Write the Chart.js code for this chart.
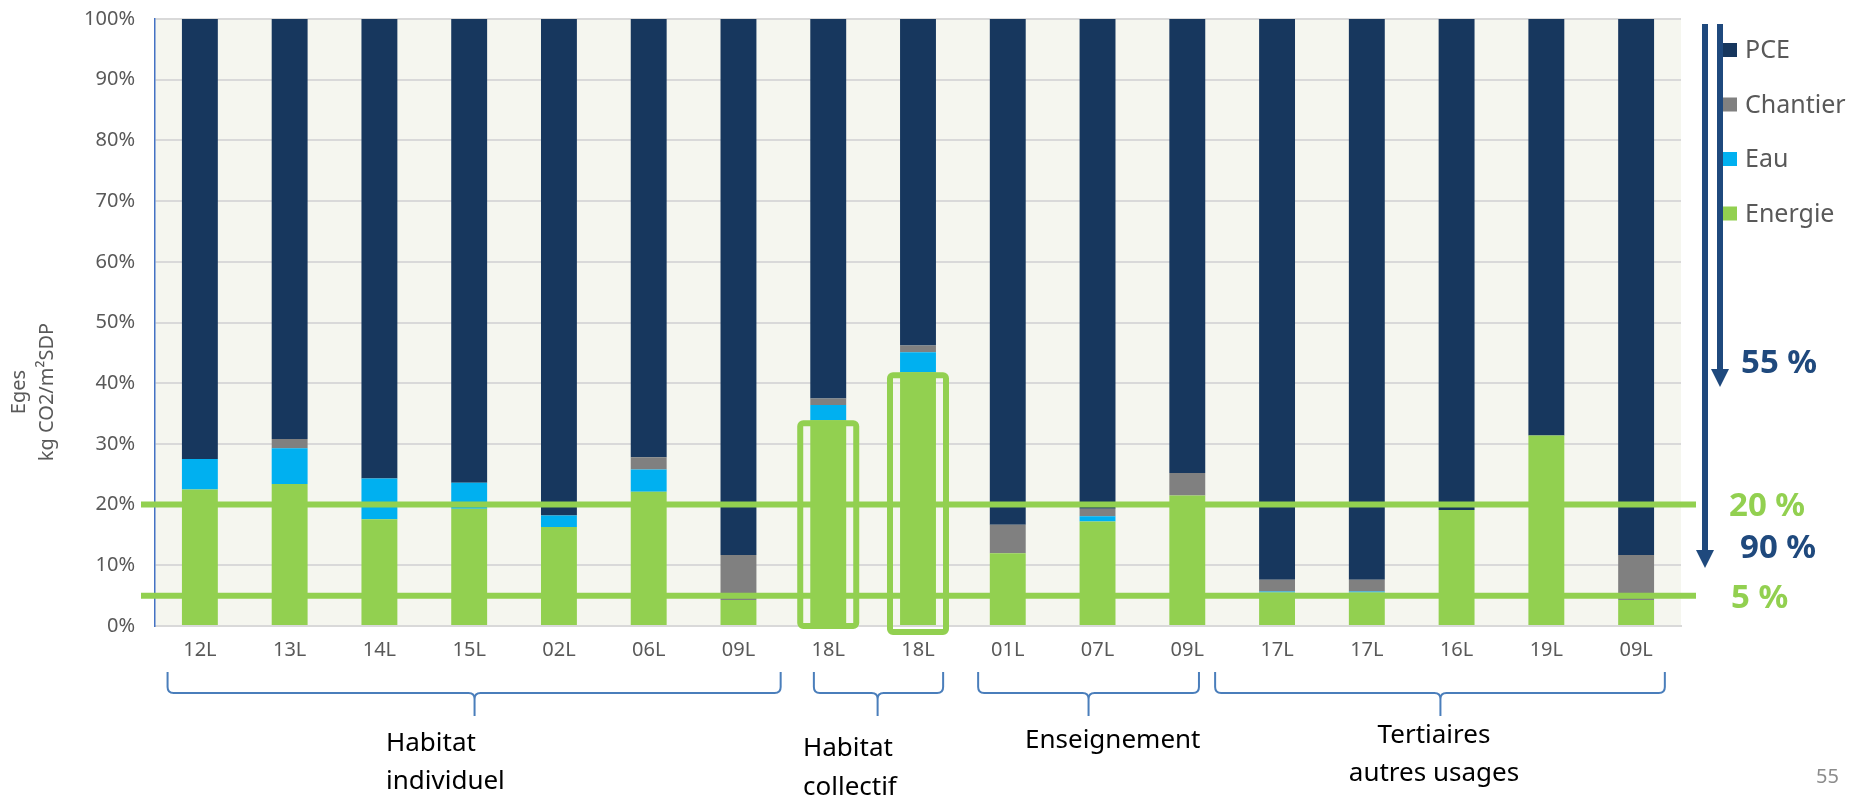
<!DOCTYPE html>
<html lang="fr">
<head>
<meta charset="utf-8">
<title>Eges par poste</title>
<script src="https://cdn.jsdelivr.net/npm/chart.js@4.4.0/dist/chart.umd.min.js"></script>
<style>
  html, body { margin: 0; padding: 0; background: #ffffff; }
  #wrap { width: 1865px; height: 801px; position: relative; }
</style>
</head>
<body>
<div id="wrap"><canvas id="chart" width="1865" height="801"></canvas></div>
<script>
// Projets (étiquettes de l'axe X)
const projets = ["12L", "13L", "14L", "15L", "02L", "06L", "09L", "18L", "18L",
  "01L", "07L", "09L", "17L", "17L", "16L", "19L", "09L"];

// Part de chaque poste dans les émissions (%)
const energie  = [22.5, 23.4, 17.6, 19.3, 16.3, 22.1, 4.3, 33.9, 41.8, 12.0, 17.2, 21.5, 5.5, 5.5, 19.1, 31.4, 4.3];
const eau      = [5.0, 5.9, 6.7, 4.3, 1.9, 3.7, 0, 2.5, 3.3, 0, 0.9, 0, 0.2, 0.2, 0, 0, 0];
const chantier = [0, 1.5, 0, 0, 0, 2.0, 7.4, 1.1, 1.1, 4.7, 1.2, 3.7, 1.9, 1.9, 0, 0, 7.4];
const pce      = [72.5, 69.2, 75.7, 76.4, 81.8, 72.2, 88.3, 62.5, 53.8, 83.3, 80.7, 74.8, 92.4, 92.4, 80.9, 68.6, 88.3];

const yTicks = [0, 10, 20, 30, 40, 50, 60, 70, 80, 90, 100];

// Seuils horizontaux et repères
const seuils = [20, 5];
const seuilLabels = ["20 %", "5 %"];
const fleches = ["55 %", "90 %"];

// Familles de bâtiments : [premier, dernier] index de projet
const groupes = [
  { lignes: ["Habitat", "individuel"], debut: 0, fin: 6 },
  { lignes: ["Habitat", "collectif"], debut: 7, fin: 8 },
  { lignes: ["Enseignement"], debut: 9, fin: 11 },
  { lignes: ["Tertiaires", "autres usages"], debut: 12, fin: 16 },
];
// Projets encadrés
const encadres = [7, 8];

const COL = {
  pce: "#17375E",
  chantier: "#808080",
  eau: "#00B0F0",
  energie: "#92D050",
  fond: "#F5F6EF",
  grille: "#D9D9D9",
  texte: "#595959",
  bleu: "#1F497D",
  accolade: "#4A7EBB",
};
const FONT = "'Noto Sans', 'DejaVu Sans', sans-serif";

// placement des accolades, en largeurs de catégorie autour des centres
const accoladeGeo = [
  { g: -0.36, d: 0.47, pointe: 3.06 },
  { g: -0.16, d: 0.28, pointe: 7.55 },
  { g: -0.33, d: 0.13, pointe: 9.9 },
  { g: -0.69, d: 0.32, pointe: 13.82 },
];
const labelGeo = [
  { x: 386, y: [744, 782], align: "left" },
  { x: 803, y: [749, 788], align: "left" },
  { x: 1025, y: [741], align: "left" },
  { x: 1434, y: [736, 774], align: "center" },
];

function drawArrow(ctx, x, y1, y2) {
  ctx.save();
  ctx.strokeStyle = COL.bleu;
  ctx.fillStyle = COL.bleu;
  ctx.lineWidth = 6;
  ctx.beginPath();
  ctx.moveTo(x, y1);
  ctx.lineTo(x, y2 - 14);
  ctx.stroke();
  ctx.beginPath();
  ctx.moveTo(x - 9, y2 - 18);
  ctx.lineTo(x + 9, y2 - 18);
  ctx.lineTo(x, y2);
  ctx.closePath();
  ctx.fill();
  ctx.restore();
}

function drawBrace(ctx, x1, x2, xm, yTop, yMid, yTip) {
  const r = 6;
  ctx.beginPath();
  ctx.moveTo(x1, yTop);
  ctx.lineTo(x1, yMid - r);
  ctx.quadraticCurveTo(x1, yMid, x1 + r, yMid);
  ctx.lineTo(xm - r, yMid);
  ctx.quadraticCurveTo(xm, yMid, xm, yMid + r);
  ctx.lineTo(xm, yTip);
  ctx.moveTo(x2, yTop);
  ctx.lineTo(x2, yMid - r);
  ctx.quadraticCurveTo(x2, yMid, x2 - r, yMid);
  ctx.lineTo(xm + r, yMid);
  ctx.quadraticCurveTo(xm, yMid, xm, yMid + r);
  ctx.stroke();
}

const decor = {
  id: "decor",
  beforeDraw(chart) {
    const { ctx, chartArea: a } = chart;
    ctx.save();
    ctx.fillStyle = COL.fond;
    ctx.fillRect(a.left, a.top, a.right - a.left, a.bottom - a.top);
    ctx.restore();
  },
  afterDatasetsDraw(chart) {
    const { ctx, chartArea: a, scales } = chart;
    const y = scales.y;
    ctx.save();
    // seuils 20 % et 5 %
    ctx.strokeStyle = COL.energie;
    ctx.lineWidth = 6;
    seuils.forEach(v => {
      const py = y.getPixelForValue(v);
      ctx.beginPath();
      ctx.moveTo(a.left - 14, py);
      ctx.lineTo(a.right + 15, py);
      ctx.stroke();
    });
    // cadres autour des barres d'habitat collectif
    const meta = chart.getDatasetMeta(0);
    encadres.forEach((i, k) => {
      const bar = meta.data[i];
      const half = bar.width * 0.78;
      const bottom = a.bottom + (k === 0 ? 0 : 6);
      ctx.beginPath();
      if (ctx.roundRect) ctx.roundRect(bar.x - half, bar.y + 3, half * 2, bottom - bar.y - 3, 3);
      else ctx.rect(bar.x - half, bar.y + 3, half * 2, bottom - bar.y - 3);
      ctx.stroke();
    });
    ctx.restore();
  },
  afterDraw(chart) {
    const { ctx, scales } = chart;
    const x = scales.x;
    ctx.save();

    // flèches
    drawArrow(ctx, 1705, 24, 568);
    drawArrow(ctx, 1720, 24, 387);

    // légende
    const legende = [
      ["PCE", COL.pce], ["Chantier", COL.chantier], ["Eau", COL.eau], ["Energie", COL.energie],
    ];
    ctx.font = "25px " + FONT;
    ctx.textBaseline = "middle";
    ctx.textAlign = "left";
    legende.forEach(([txt, c], i) => {
      const cy = 50 + i * 54.5;
      ctx.fillStyle = c;
      ctx.fillRect(1723, cy - 7, 14, 14);
      ctx.fillStyle = COL.texte;
      ctx.fillText(txt, 1745, cy + 1);
    });

    // repères en pourcentage
    ctx.font = "bold 33px " + FONT;
    ctx.fillStyle = COL.bleu;
    ctx.fillText(fleches[0], 1741, 364);
    ctx.fillText(fleches[1], 1740, 549);
    ctx.fillStyle = COL.energie;
    ctx.fillText(seuilLabels[0], 1729, 507);
    ctx.fillText(seuilLabels[1], 1731, 599);

    // titre de l'axe Y
    ctx.fillStyle = COL.texte;
    ctx.font = "20px " + FONT;
    ctx.textAlign = "center";
    ctx.save();
    ctx.translate(19, 392);
    ctx.rotate(-Math.PI / 2);
    ctx.fillText("Eges", 0, 0);
    ctx.restore();
    ctx.save();
    ctx.translate(47, 392);
    ctx.rotate(-Math.PI / 2);
    ctx.fillText("kg CO2/m²SDP", 0, 0);
    ctx.restore();

    // accolades et familles
    const w = x.getPixelForValue(1) - x.getPixelForValue(0);
    ctx.strokeStyle = COL.accolade;
    ctx.lineWidth = 2;
    groupes.forEach((g, i) => {
      const geo = accoladeGeo[i];
      const x1 = x.getPixelForValue(g.debut) + geo.g * w;
      const x2 = x.getPixelForValue(g.fin) + geo.d * w;
      const xm = x.getPixelForValue(0) + geo.pointe * w;
      drawBrace(ctx, x1, x2, xm, 672, 693, 716);

      const lg = labelGeo[i];
      ctx.fillStyle = "#000000";
      ctx.font = "26px " + FONT;
      ctx.textAlign = lg.align;
      g.lignes.forEach((t, j) => ctx.fillText(t, lg.x, lg.y[j]));
    });

    // numéro de page
    ctx.fillStyle = "#8C8C8C";
    ctx.font = "20px " + FONT;
    ctx.textAlign = "right";
    ctx.fillText("55", 1839, 777);

    ctx.restore();
  },
};

const ctx = document.getElementById("chart").getContext("2d");

new Chart(ctx, {
  type: "bar",
  data: {
    labels: projets,
    datasets: [
      { label: "Energie", data: energie, backgroundColor: COL.energie },
      { label: "Eau", data: eau, backgroundColor: COL.eau },
      { label: "Chantier", data: chantier, backgroundColor: COL.chantier },
      { label: "PCE", data: pce, backgroundColor: COL.pce },
    ],
  },
  options: {
    responsive: false,
    animation: false,
    layout: { padding: { left: 0, right: 184, top: 19, bottom: 0 } },
    datasets: { bar: { categoryPercentage: 1, barPercentage: 0.4 } },
    plugins: { legend: { display: false }, tooltip: { enabled: false } },
    scales: {
      x: {
        stacked: true,
        grid: { display: false, drawTicks: false },
        border: { color: COL.grille, width: 2 },
        ticks: {
          color: COL.texte, font: { family: FONT, size: 20 },
          padding: 12, maxRotation: 0, autoSkip: false,
        },
        afterFit(scale) { scale.height = 175; },
      },
      y: {
        stacked: true,
        min: 0,
        max: 100,
        afterBuildTicks(scale) { scale.ticks = yTicks.map(v => ({ value: v })); },
        grid: { color: COL.grille, lineWidth: 2, drawTicks: false },
        border: { color: "#4472C4", width: 1.5 },
        ticks: {
          color: COL.texte, font: { family: FONT, size: 20 }, padding: 20,
          callback: v => v + "%",
        },
        afterFit(scale) {
          scale.width = 155;
          scale.paddingTop = 0;
          scale.paddingBottom = 0;
        },
      },
    },
  },
  plugins: [decor],
});
</script>
</body>
</html>
